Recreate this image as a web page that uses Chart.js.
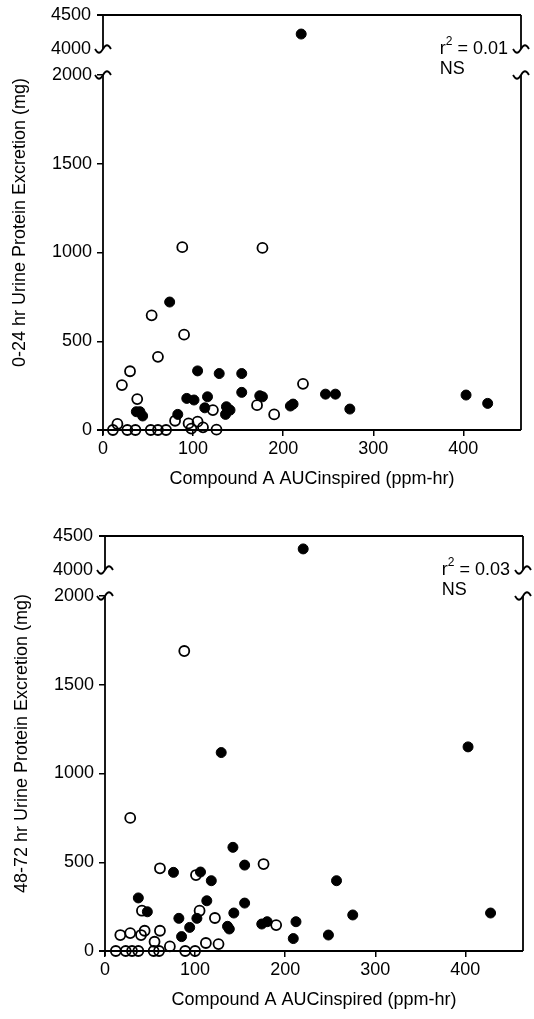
<!DOCTYPE html>
<html>
<head>
<meta charset="utf-8">
<script src="https://cdn.jsdelivr.net/npm/chart.js@4.4.1/dist/chart.umd.min.js"></script>
<style>
  html, body { margin: 0; padding: 0; background: #fff; width: 534px; height: 1019px; overflow: hidden; }
  .panel { position: absolute; left: 0; width: 534px; height: 500px; }
  #p1 { top: 0; }
  #p2 { top: 521px; left: 2px; }
</style>
</head>
<body>
<div class="panel" id="p1"><canvas id="chart24"></canvas></div>
<div class="panel" id="p2"><canvas id="chart72"></canvas></div>
<script>
// Tick values
const xTicks = [0, 100, 200, 300, 400];
const yTicks = [0, 500, 1000, 1500, 2000];
const yTopTicks = [4000, 4500];

// 0-24 hr panel: open circles
const auc24Open  = [88, 177, 54, 90, 61, 30, 21, 38, 122, 171, 190, 222, 80, 16, 11, 27, 36, 53, 61, 70, 95, 105, 98, 111, 126];
const prot24Open = [1030, 1026, 646, 537, 412, 331, 253, 174, 112, 140, 88, 260, 52, 34, 0, 0, 0, 0, 0, 0, 37, 47, 8, 15, 2];
// 0-24 hr panel: filled circles
const auc24Filled  = [74, 105, 129, 154, 154, 93, 101, 116, 113, 137, 141, 136, 174, 177, 208, 211, 37, 41, 44, 83, 247, 258, 274, 403, 427, 220];
const prot24Filled = [721, 333, 318, 318, 212, 178, 169, 187, 125, 131, 112, 88, 193, 187, 135, 146, 103, 103, 79, 88, 202, 202, 118, 197, 150, 4220];

// 48-72 hr panel: open circles
const auc72Open  = [88, 28, 61, 176, 101, 105, 122, 190, 17, 28, 40, 44, 61, 55, 72, 112, 126, 41, 12, 23, 30, 37, 54, 60, 89, 100];
const prot72Open = [1690, 750, 466, 490, 428, 227, 186, 146, 90, 101, 90, 114, 114, 52, 26, 45, 39, 227, 0, 0, 0, 0, 0, 0, 0, 0];
// 48-72 hr panel: filled circles
const auc72Filled  = [129, 403, 142, 155, 106, 76, 118, 257, 37, 47, 113, 155, 82, 102, 94, 85, 143, 136, 138, 174, 180, 212, 209, 248, 275, 428, 220];
const prot72Filled = [1118, 1150, 584, 484, 445, 443, 396, 396, 299, 221, 283, 270, 184, 184, 133, 81, 214, 139, 124, 152, 165, 165, 70, 90, 203, 214, 4310];

// Layout (pixels inside each panel canvas)
const FONT = "'Liberation Sans', Arial, sans-serif";
const INK = '#000';
const CANVAS_H = 500;
const PLOT_TOP = 15;      // y of 4500
const TOP_SEG_PX = 34;    // 4500 -> 4000
const GAP_TO_2000 = 60;   // plot top -> 2000
const X_AXIS_H = 70;
const Y_AXIS_W = 103;
const PAD_RIGHT = 13;
const X_MAX = 464;

const plotH = CANVAS_H - PLOT_TOP - X_AXIS_H;
const mainMax = 2000 * plotH / (plotH - GAP_TO_2000);
const topMin = 4500 - 500 * plotH / TOP_SEG_PX;

function points(xs, ys, upper) {
  return xs.map((x, i) => ({ x: x, y: ys[i] }))
    .filter(p => upper ? p.y > 2000 : p.y <= 2000);
}

// tilde shaped break mark centred on (x, y)
function squiggle(ctx, x, y) {
  ctx.beginPath();
  ctx.moveTo(x - 8, y);
  ctx.bezierCurveTo(x - 5, y + 5, x - 3, y + 5, x, y);
  ctx.bezierCurveTo(x + 3, y - 5, x + 5, y - 5, x + 8, y);
  ctx.stroke();
}

function line(ctx, x1, y1, x2, y2) {
  ctx.beginPath();
  ctx.moveTo(x1, y1);
  ctx.lineTo(x2, y2);
  ctx.stroke();
}

const brokenAxis = {
  id: 'brokenAxis',
  afterDatasetsDraw(chart, args, opts) {
    const { ctx, chartArea: a, scales: { y, yTop } } = chart;
    const y0 = y.getPixelForValue(0);
    const y2k = y.getPixelForValue(2000);
    const y4k = yTop.getPixelForValue(4000);
    const y45 = yTop.getPixelForValue(4500);

    ctx.save();
    ctx.strokeStyle = INK;
    ctx.lineWidth = 1.8;

    // frame with breaks
    line(ctx, a.left, y0 + 5, a.left, y2k);
    line(ctx, a.left, y4k, a.left, y45);
    line(ctx, a.left - 6, y45, a.right, y45);
    line(ctx, a.right, y45, a.right, y4k);
    line(ctx, a.right, y2k, a.right, y0);
    line(ctx, a.left - 6, y0, a.right, y0);
    squiggle(ctx, a.left, y4k);
    squiggle(ctx, a.left, y2k);
    squiggle(ctx, a.right, y4k);
    squiggle(ctx, a.right, y2k);

    // upper segment tick labels
    ctx.fillStyle = INK;
    ctx.font = '18px ' + FONT;
    ctx.textAlign = 'right';
    ctx.textBaseline = 'middle';
    yTopTicks.forEach(v => {
      ctx.fillText(String(v), a.left - 12, yTop.getPixelForValue(v));
    });

    // r squared note
    const rest = ' = ' + opts.r2;
    const wRest = ctx.measureText(rest).width;
    ctx.font = '12px ' + FONT;
    const wSup = ctx.measureText('2').width;
    ctx.font = '18px ' + FONT;
    const wR = ctx.measureText('r').width;
    const xEnd = a.right - 13;
    const xStart = xEnd - wRest - wSup - wR;
    ctx.textAlign = 'left';
    ctx.fillText('r', xStart, y4k);
    ctx.fillText(rest, xStart + wR + wSup, y4k);
    ctx.fillText('NS', xStart, y4k + 20);
    ctx.font = '12px ' + FONT;
    ctx.fillText('2', xStart + wR, y4k - 7);
    ctx.restore();
  }
};

function makeChart(id, yTitle, r2, open, filled) {
  const ctx = document.getElementById(id).getContext('2d');
  const openStyle = {
    pointRadius: 5, pointHoverRadius: 5, pointBorderWidth: 1.8,
    pointBorderColor: INK, pointBackgroundColor: 'rgba(0,0,0,0)', clip: false
  };
  const filledStyle = {
    pointRadius: 5, pointHoverRadius: 5, pointBorderWidth: 1,
    pointBorderColor: INK, pointBackgroundColor: INK, clip: false
  };
  return new Chart(ctx, {
    type: 'scatter',
    data: {
      datasets: [
        { label: 'open', data: points(open[0], open[1], false), yAxisID: 'y', ...openStyle },
        { label: 'filled', data: points(filled[0], filled[1], false), yAxisID: 'y', ...filledStyle },
        { label: 'open top', data: points(open[0], open[1], true), yAxisID: 'yTop', ...openStyle },
        { label: 'filled top', data: points(filled[0], filled[1], true), yAxisID: 'yTop', ...filledStyle }
      ]
    },
    options: {
      responsive: true,
      maintainAspectRatio: false,
      animation: false,
      layout: { padding: { top: PLOT_TOP, right: PAD_RIGHT, bottom: 0, left: 0 } },
      plugins: {
        legend: { display: false },
        tooltip: { enabled: false },
        brokenAxis: { r2: r2 }
      },
      scales: {
        x: {
          type: 'linear',
          position: 'bottom',
          min: 0,
          max: X_MAX,
          afterBuildTicks: s => { s.ticks = xTicks.map(v => ({ value: v })); },
          afterFit: s => { s.height = X_AXIS_H; s.paddingLeft = 0; s.paddingRight = 0; },
          border: { display: false },
          grid: { drawOnChartArea: false, tickLength: 6, color: INK, lineWidth: 1.5 },
          ticks: {
            color: INK, padding: 2, maxRotation: 0, autoSkip: false,
            font: { family: FONT, size: 18 },
            callback: v => String(v)
          },
          title: {
            display: true, text: 'Compound A AUCinspired (ppm-hr)', color: INK,
            font: { family: FONT, size: 18 }, padding: { top: 0, bottom: 10 }
          }
        },
        y: {
          type: 'linear',
          position: 'left',
          min: 0,
          max: mainMax,
          afterBuildTicks: s => { s.ticks = yTicks.map(v => ({ value: v })); },
          afterFit: s => { s.width = Y_AXIS_W; s.paddingTop = 0; s.paddingBottom = 0; },
          border: { display: false },
          grid: { drawOnChartArea: false, tickLength: 6, color: INK, lineWidth: 1.5 },
          ticks: {
            color: INK, padding: 5, autoSkip: false,
            font: { family: FONT, size: 18 },
            callback: v => String(v)
          },
          title: {
            display: true, text: yTitle, color: INK,
            font: { family: FONT, size: 18 }, padding: { top: 9, bottom: 0 }
          }
        },
        yTop: {
          type: 'linear',
          position: 'left',
          display: false,
          min: topMin,
          max: 4500
        }
      }
    },
    plugins: [brokenAxis]
  });
}

makeChart('chart24', '0-24 hr Urine Protein Excretion (mg)', '0.01',
  [auc24Open, prot24Open], [auc24Filled, prot24Filled]);
makeChart('chart72', '48-72 hr Urine Protein Excretion (mg)', '0.03',
  [auc72Open, prot72Open], [auc72Filled, prot72Filled]);
</script>
</body>
</html>
